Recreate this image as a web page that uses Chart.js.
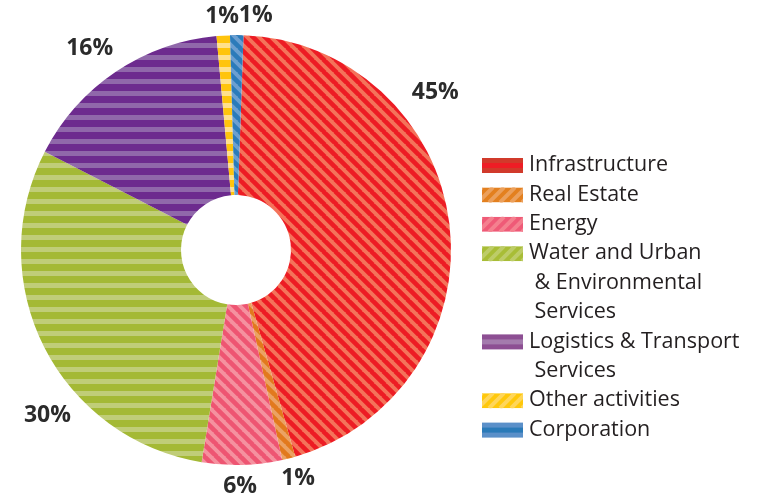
<!DOCTYPE html>
<html>
<head>
<meta charset="utf-8">
<script src="https://cdn.jsdelivr.net/npm/chart.js@4"></script>
<style>
  html, body { margin: 0; padding: 0; background: #ffffff; }
  #wrap { width: 763px; height: 496px; }
</style>
</head>
<body>
<div id="wrap"><canvas id="portfolioChart" width="763" height="496"></canvas></div>
<script>
// Portfolio breakdown by sector (%)
var sectors = ['Infrastructure', 'Real Estate', 'Energy',
  ['Water and Urban', ' & Environmental', ' Services'],
  ['Logistics & Transport', ' Services'],
  'Other activities', 'Corporation'];
var shares = [45, 1, 6, 30, 16, 1, 1];

// dark / light stripe colours for each slice
var darkColors = ['#ed1c24', '#e2791d', '#ee5572', '#a4b935', '#6d2b8e', '#ffc40c', '#2b7bba'];
var lightColors = ['#f4735a', '#eba263', '#f5919f', '#c0cd78', '#9068aa', '#ffe08c', '#6b9fd1'];
var stripeKind = ['diag', 'diag', 'diag', 'horiz', 'horiz', 'horiz', 'diag'];

// legend swatches are drawn a bit differently from the slices
var swatchKind = ['bands', 'slash', 'slash', 'slash', 'bands', 'slash', 'bands'];
var swatchOuter = ['#d13a2b', '#e3801f', '#ef5a77', '#a8bd36', '#8d4f93', '#ffc80b', '#5b90c9'];
var swatchInner = ['#ee1d25', '#eba05c', '#f4808f', '#bdcc68', '#a47bad', '#ffd65a', '#2a7ab8'];

function makeStripes(dark, light, kind) {
  var tile = document.createElement('canvas');
  var ctx = tile.getContext('2d');
  if (kind === 'horiz') {
    tile.width = 12; tile.height = 12;
    ctx.fillStyle = light;
    ctx.fillRect(0, 0, 12, 12);
    ctx.fillStyle = dark;
    ctx.fillRect(0, 0, 12, 7);
  } else {
    var s = 12;
    tile.width = s; tile.height = s;
    ctx.fillStyle = light;
    ctx.fillRect(0, 0, s, s);
    ctx.strokeStyle = dark;
    ctx.lineWidth = 4.6;
    ctx.beginPath();
    for (var k = -1; k <= 1; k++) {
      ctx.moveTo(k * s - 1, -1);
      ctx.lineTo(k * s + s + 1, s + 1);
    }
    ctx.stroke();
  }
  return ctx.createPattern(tile, 'repeat');
}

var sliceFills = darkColors.map(function (c, i) {
  return makeStripes(c, lightColors[i], stripeKind[i]);
});

// label anchors: [angle from 12 o'clock, distance from centre]
var labelAnchors = [[51.7, 254], [164.8, 237], [179, 236], [228.7, 251], [324, 249], [356.6, 234], [4.8, 235]];

var percentLabels = {
  id: 'percentLabels',
  afterDatasetsDraw: function (chart) {
    var ctx = chart.ctx;
    var arcs = chart.getDatasetMeta(0).data;
    ctx.save();
    ctx.font = 'bold 23px "Open Sans"';
    ctx.fillStyle = '#2b2b2b';
    ctx.textAlign = 'center';
    ctx.textBaseline = 'middle';
    arcs.forEach(function (arc, i) {
      var a = labelAnchors[i][0] * Math.PI / 180;
      var d = labelAnchors[i][1];
      var x = arc.x + d * Math.sin(a);
      var y = arc.y - d * Math.cos(a);
      ctx.fillText(shares[i] + '%', x, y);
    });
    ctx.restore();
  }
};

function drawSwatch(ctx, i, x, y, w, h) {
  ctx.save();
  if (swatchKind[i] === 'bands') {
    ctx.fillStyle = swatchOuter[i];
    ctx.fillRect(x, y, w, h);
    ctx.fillStyle = swatchInner[i];
    ctx.fillRect(x, y + h / 3, w, h / 3);
  } else {
    ctx.beginPath();
    ctx.rect(x, y, w, h);
    ctx.clip();
    ctx.fillStyle = swatchOuter[i];
    ctx.fillRect(x, y, w, h);
    ctx.strokeStyle = swatchInner[i];
    ctx.lineWidth = 4;
    ctx.beginPath();
    for (var sx = x - h; sx < x + w + h; sx += 11) {
      ctx.moveTo(sx, y + h);
      ctx.lineTo(sx + h, y);
    }
    ctx.stroke();
  }
  ctx.restore();
}

var sideLegend = {
  id: 'sideLegend',
  afterDraw: function (chart) {
    var ctx = chart.ctx;
    var labels = chart.data.labels;
    var lineH = 29.4;
    var y = 165;
    ctx.save();
    ctx.font = '21.5px "Open Sans"';
    ctx.textBaseline = 'middle';
    labels.forEach(function (lab, i) {
      var lines = Array.isArray(lab) ? lab : [lab];
      drawSwatch(ctx, i, 482, y - 7, 41, 15);
      ctx.fillStyle = '#231f20';
      lines.forEach(function (t, j) {
        ctx.fillText(t, 529, y + j * lineH);
      });
      y += lines.length * lineH;
    });
    ctx.restore();
  }
};

document.addEventListener('DOMContentLoaded', function () {
  var myContext = document.getElementById('portfolioChart').getContext('2d');

  new Chart(myContext, {
    type: 'doughnut',
    data: {
      labels: sectors,
      datasets: [{
        data: shares,
        backgroundColor: sliceFills,
        borderWidth: 0
      }]
    },
    options: {
      responsive: false,
      animation: false,
      rotation: 2,
      cutout: 55,
      layout: {
        padding: { left: 21, right: 312, top: 35, bottom: 31 }
      },
      plugins: {
        legend: { display: false },
        tooltip: { enabled: false }
      }
    },
    plugins: [percentLabels, sideLegend]
  });
});
</script>
</body>
</html>
